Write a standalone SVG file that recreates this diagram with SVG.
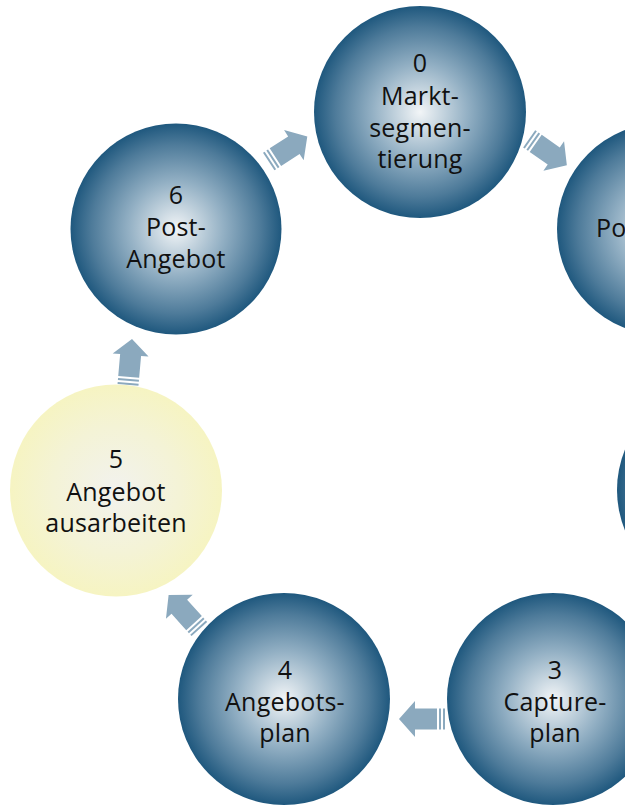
<svg xmlns="http://www.w3.org/2000/svg" xmlns:xlink="http://www.w3.org/1999/xlink" width="625" height="810" viewBox="0 0 625 810">
  <defs>
    <radialGradient id="gBlue" cx="50%" cy="50%" r="50%">
      <stop offset="0" stop-color="#f2f5f7"/>
      <stop offset="0.45" stop-color="#93b0c4"/>
      <stop offset="0.8" stop-color="#4e7b9a"/>
      <stop offset="1" stop-color="#1f587e"/>
    </radialGradient>
    <radialGradient id="gYellow" cx="50%" cy="50%" r="50%">
      <stop offset="0" stop-color="#f2f2ee"/>
      <stop offset="0.6" stop-color="#f4f3d6"/>
      <stop offset="1" stop-color="#f6f4c2"/>
    </radialGradient>
    <!-- striped block arrow, pointing along +x, centred on the origin -->
    <g id="arr">
      <path d="M-23,-10.5 h2 v21 h-2 z"/>
      <path d="M-19,-10.5 h2 v21 h-2 z"/>
      <path d="M-15,-10.5 H7 V-18 L23,0 L7,18 V10.5 H-15 z"/>
    </g>
  </defs>
  <style>
    .arrow { fill: #8ba9be; }
    .blue { fill: url(#gBlue); }
    .yellow { fill: url(#gYellow); }
    text { font-family: "Open Sans", "Noto Sans", sans-serif; font-size: 25px; fill: #111; text-anchor: middle; letter-spacing: 0.2px; }
  </style>

  <rect width="625" height="810" fill="#ffffff"/>

  <g id="connectors" class="arrow">
    <use xlink:href="#arr" transform="translate(288,149) rotate(-33)"/>
    <use xlink:href="#arr" transform="translate(548,152) rotate(35)"/>
    <use xlink:href="#arr" transform="translate(130,362) rotate(-85)"/>
    <use xlink:href="#arr" transform="translate(184,612) rotate(-132)"/>
    <use xlink:href="#arr" transform="translate(422,719) rotate(180)"/>
  </g>

  <g id="node0">
    <circle class="blue" cx="420" cy="112" r="106"/>
    <text x="420" y="72">0</text>
    <text x="420" y="105">Markt-</text>
    <text x="420" y="137">segmen-</text>
    <text x="420" y="168">tierung</text>
  </g>

  <g id="node1">
    <circle class="blue" cx="663" cy="229" r="106"/>
    <text x="596" y="237" style="text-anchor:start">Po</text>
  </g>

  <g id="node2">
    <circle class="blue" cx="723" cy="490" r="106"/>
  </g>

  <g id="node3">
    <circle class="blue" cx="553" cy="699" r="106"/>
    <text x="555" y="679">3</text>
    <text x="555" y="711">Capture-</text>
    <text x="555" y="742">plan</text>
  </g>

  <g id="node4">
    <circle class="blue" cx="284" cy="699" r="106"/>
    <text x="285" y="679">4</text>
    <text x="285" y="711">Angebots-</text>
    <text x="285" y="742">plan</text>
  </g>

  <g id="node5">
    <circle class="yellow" cx="116" cy="490.5" r="106"/>
    <text x="116" y="468">5</text>
    <text x="116" y="500.5">Angebot</text>
    <text x="116" y="532">ausarbeiten</text>
  </g>

  <g id="node6">
    <circle class="blue" cx="176" cy="229" r="105.5"/>
    <text x="176" y="204">6</text>
    <text x="176" y="236">Post-</text>
    <text x="176" y="268">Angebot</text>
  </g>
</svg>
